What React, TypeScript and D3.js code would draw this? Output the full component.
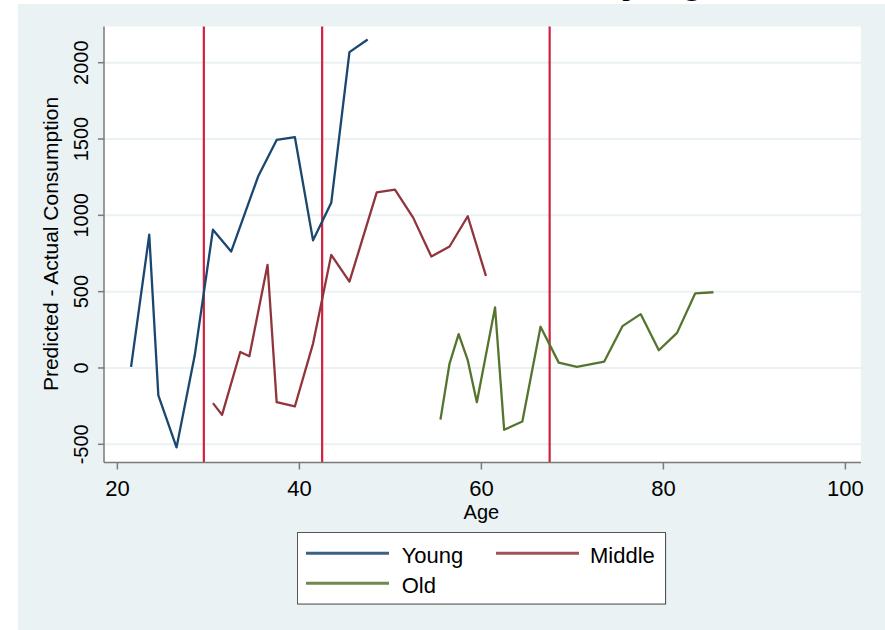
import React from "react"
import { scaleLinear, line } from "d3"

const width = 885
const height = 630

// age groups / series values
const youngAge = [21.5, 23.5, 24.5, 26.5, 28.5, 30.5, 32.5, 35.5, 37.5, 39.5, 41.5, 43.5, 45.5, 47.5]
const youngVal = [7, 873, -180, -520, 83, 906, 763, 1260, 1494, 1513, 836, 1082, 2069, 2152]

const middleAge = [30.5, 31.5, 33.5, 34.5, 36.5, 37.5, 39.5, 41.5, 43.5, 45.5, 48.5, 50.5, 52.5, 54.5, 56.5, 58.5, 60.5]
const middleVal = [-230, -307, 105, 77, 676, -224, -252, 160, 741, 566, 1150, 1169, 985, 730, 796, 994, 603]

const oldAge = [55.5, 56.5, 57.5, 58.5, 59.5, 61.5, 62.5, 64.5, 66.5, 68.5, 70.5, 73.5, 75.5, 77.5, 79.5, 81.5, 83.5, 85.5]
const oldVal = [-338, 29, 222, 51, -224, 397, -405, -351, 270, 35, 7, 42, 274, 353, 116, 230, 489, 496]

const cutoffs = [29.5, 42.5, 67.5]
const xTicks = [20, 40, 60, 80, 100]
const yTicks = [-500, 0, 500, 1000, 1500, 2000]

const bg = "#eaf2f3"
const font = "'Liberation Sans', Arial, sans-serif"

const plotLeft = 104
const plotRight = 861
const plotTop = 26.5
const plotBottom = 462.5

const x = scaleLinear().domain([20, 100]).range([117.4, 845.4])
const y = scaleLinear().domain([-500, 2000]).range([444.3, 62.7])

const series = [
  { name: "Young", ages: youngAge, vals: youngVal, color: "#1a476f" },
  { name: "Middle", ages: middleAge, vals: middleVal, color: "#90353b" },
  { name: "Old", ages: oldAge, vals: oldVal, color: "#55752f" },
]

const makePath = (ages: number[], vals: number[]) =>
  line<number>()
    .x((d, i) => x(ages[i]))
    .y((d) => y(d))(vals) || ""

const App = () => (
  <svg width={width} height={height} style={{ position: "absolute", left: 0, top: 0 }}>
    <rect x={0} y={0} width={width} height={height} fill="#fff" />
    {/* title, cut off at the top of the image */}
    <text x={597} y={-7} fontFamily={font} fontWeight="bold" fontSize={39} fill="#000">by Age</text>
    <rect x={18} y={4} width={width - 18} height={height - 4} fill={bg} />

    <rect x={plotLeft} y={plotTop} width={plotRight - plotLeft} height={plotBottom - plotTop} fill="#fff" />
    {yTicks.map((t) => (
      <line key={"g" + t} x1={plotLeft} x2={plotRight} y1={y(t)} y2={y(t)} stroke={bg} strokeWidth={2} />
    ))}

    {cutoffs.map((c) => (
      <line key={"c" + c} x1={x(c)} x2={x(c)} y1={plotTop} y2={plotBottom} stroke="#d2203f" strokeWidth={2.2} />
    ))}

    {series.map((s) => (
      <path key={s.name} d={makePath(s.ages, s.vals)} fill="none" stroke={s.color} strokeWidth={2.3} strokeLinejoin="round" />
    ))}

    {/* axes */}
    <line x1={plotLeft} x2={plotLeft} y1={plotTop} y2={plotBottom} stroke="#7a7a7a" strokeWidth={1.5} />
    <line x1={plotLeft} x2={plotRight} y1={plotBottom} y2={plotBottom} stroke="#7a7a7a" strokeWidth={1.5} />
    {yTicks.map((t) => (
      <g key={"y" + t}>
        <line x1={plotLeft - 6} x2={plotLeft} y1={y(t)} y2={y(t)} stroke="#7a7a7a" strokeWidth={1.5} />
        <text
          transform={`translate(88,${y(t)}) rotate(-90)`}
          textAnchor="middle"
          fontFamily={font}
          fontSize={20}
          fill="#000"
        >
          {t}
        </text>
      </g>
    ))}
    {xTicks.map((t) => (
      <g key={"x" + t}>
        <line x1={x(t)} x2={x(t)} y1={plotBottom} y2={plotBottom + 7} stroke="#7a7a7a" strokeWidth={1.5} />
        <text x={x(t)} y={496} textAnchor="middle" fontFamily={font} fontSize={22} fill="#000">
          {t}
        </text>
      </g>
    ))}
    <text x={x(60)} y={519} textAnchor="middle" fontFamily={font} fontSize={20} fill="#000">Age</text>
    <text
      transform={`translate(58,244) rotate(-90)`}
      textAnchor="middle"
      fontFamily={font}
      fontSize={21}
      fill="#000"
    >
      Predicted - Actual Consumption
    </text>

    {/* legend */}
    <rect x={298.5} y={533.5} width={368} height={71.5} fill="#c8cfd1" />
    <rect x={297.5} y={532.5} width={368} height={71.5} fill="#fff" stroke="#555" strokeWidth={1} />
    {series.map((s, i) => {
      const lx = i === 1 ? 496 : 306
      const ly = i === 2 ? 583.3 : 553.3
      return (
        <g key={"l" + s.name}>
          <line x1={lx} x2={lx + 83} y1={ly} y2={ly} stroke={s.color} strokeWidth={3} opacity={0.85} />
          <text x={i === 1 ? 590 : 401.7} y={ly + 9.4} fontFamily={font} fontSize={22} fill="#000">
            {s.name}
          </text>
        </g>
      )
    })}
  </svg>
)

export default App
